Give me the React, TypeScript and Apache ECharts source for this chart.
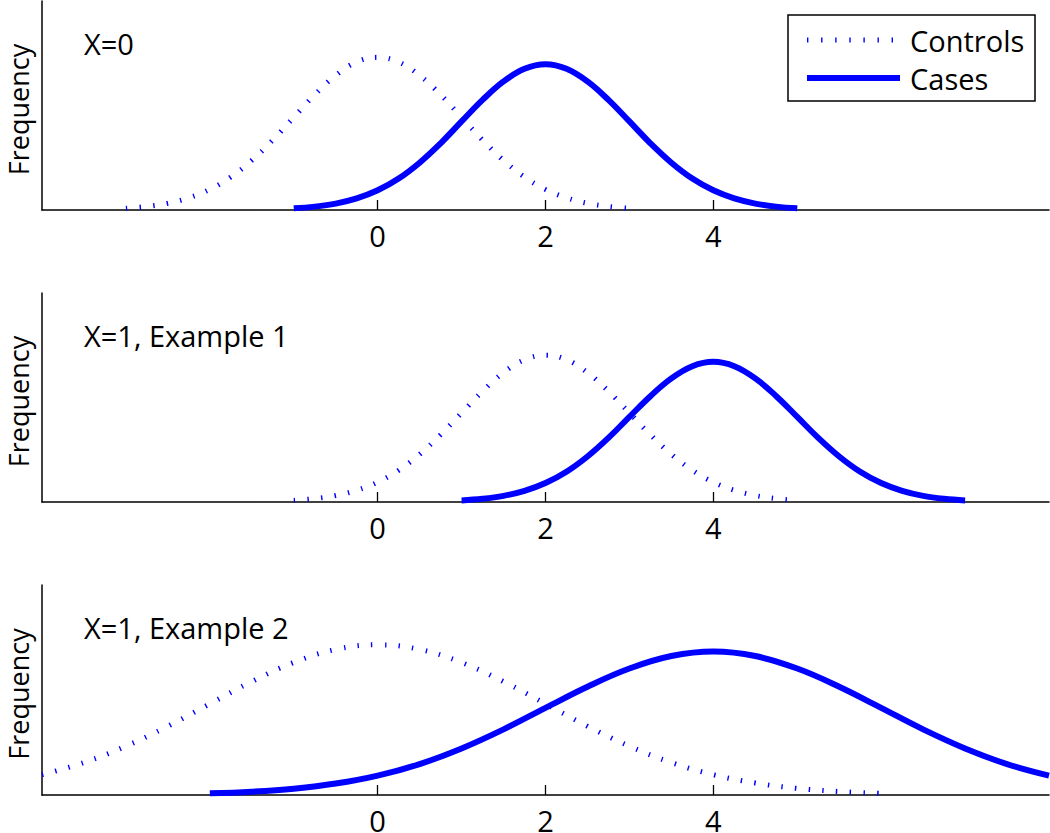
import React, { useEffect, useRef } from "react";
import * as echarts from "echarts";

// ---- data ----
const panelTitles = ["X=0", "X=1, Example 1", "X=1, Example 2"];
const seriesNames = ["Controls", "Cases"];
const xTickValues = [0, 2, 4];
const xRange = [-4, 8];
const yMaxes = [1.369, 1.424, 1.398];

// Panel 1
const p1ControlsX = [-3, -2.75, -2.5, -2.25, -2, -1.75, -1.5, -1.25, -1, -0.75, -0.5, -0.25, 0, 0.25, 0.5, 0.75, 1, 1.25, 1.5, 1.75, 2, 2.25, 2.5, 2.75, 3];
const p1ControlsY = [0.011, 0.023, 0.044, 0.08, 0.135, 0.216, 0.325, 0.458, 0.607, 0.755, 0.882, 0.969, 1.0, 0.969, 0.882, 0.755, 0.607, 0.458, 0.325, 0.216, 0.135, 0.08, 0.044, 0.023, 0.011];
const p1CasesX = [-1, -0.75, -0.5, -0.25, 0, 0.25, 0.5, 0.75, 1, 1.25, 1.5, 1.75, 2, 2.25, 2.5, 2.75, 3, 3.25, 3.5, 3.75, 4, 4.25, 4.5, 4.75, 5];
const p1CasesY = [0.011, 0.022, 0.042, 0.076, 0.129, 0.206, 0.31, 0.437, 0.58, 0.721, 0.842, 0.925, 0.955, 0.925, 0.842, 0.721, 0.58, 0.437, 0.31, 0.206, 0.129, 0.076, 0.042, 0.022, 0.011];

// Panel 2
const p2ControlsX = [-1, -0.75, -0.5, -0.25, 0, 0.25, 0.5, 0.75, 1, 1.25, 1.5, 1.75, 2, 2.25, 2.5, 2.75, 3, 3.25, 3.5, 3.75, 4, 4.25, 4.5, 4.75, 5];
const p2ControlsY = [0.011, 0.023, 0.044, 0.08, 0.135, 0.216, 0.325, 0.458, 0.607, 0.755, 0.882, 0.969, 1.0, 0.969, 0.882, 0.755, 0.607, 0.458, 0.325, 0.216, 0.135, 0.08, 0.044, 0.023, 0.011];
const p2CasesX = [1, 1.25, 1.5, 1.75, 2, 2.25, 2.5, 2.75, 3, 3.25, 3.5, 3.75, 4, 4.25, 4.5, 4.75, 5, 5.25, 5.5, 5.75, 6, 6.25, 6.5, 6.75, 7];
const p2CasesY = [0.011, 0.022, 0.042, 0.076, 0.129, 0.206, 0.31, 0.437, 0.58, 0.721, 0.842, 0.925, 0.955, 0.925, 0.842, 0.721, 0.58, 0.437, 0.31, 0.206, 0.129, 0.076, 0.042, 0.022, 0.011];

// Panel 3
const p3ControlsX = [-4, -3.5, -3, -2.5, -2, -1.5, -1, -0.5, 0, 0.5, 1, 1.5, 2, 2.5, 3, 3.5, 4, 4.5, 5, 5.5, 6];
const p3ControlsY = [0.135, 0.216, 0.325, 0.458, 0.607, 0.755, 0.882, 0.969, 1.0, 0.969, 0.882, 0.755, 0.607, 0.458, 0.325, 0.216, 0.135, 0.08, 0.044, 0.023, 0.011];
const p3CasesX = [-2, -1.5, -1, -0.5, 0, 0.5, 1, 1.5, 2, 2.5, 3, 3.5, 4, 4.5, 5, 5.5, 6, 6.5, 7, 7.5, 8];
const p3CasesY = [0.011, 0.022, 0.042, 0.076, 0.129, 0.206, 0.31, 0.437, 0.58, 0.721, 0.842, 0.925, 0.955, 0.925, 0.842, 0.721, 0.58, 0.437, 0.31, 0.206, 0.129];

const controlsXs = [p1ControlsX, p2ControlsX, p3ControlsX];
const controlsYs = [p1ControlsY, p2ControlsY, p3ControlsY];
const casesXs = [p1CasesX, p2CasesX, p3CasesX];
const casesYs = [p1CasesY, p2CasesY, p3CasesY];

// ---- layout / style ----
const FONT = '"Open Sans", sans-serif';
const FS = 29;
const BLUE = "#0000ff";
const gridTops = [1, 293, 585];
const gridHeights = [209, 209, 210];
const GRID_LEFT = 42;
const GRID_WIDTH = 1007;
const DOT_DASH = [1.4, 12.3];

const zip = (xs: number[], ys: number[]) => xs.map((x, i) => [x, ys[i]]);

export default function App() {
  const ref = useRef<HTMLDivElement>(null);

  useEffect(() => {
    if (!ref.current) return;
    const chart = echarts.init(ref.current, undefined, { renderer: "svg" });

    const grid = gridTops.map((t, i) => ({
      left: GRID_LEFT,
      width: GRID_WIDTH,
      top: t,
      height: gridHeights[i],
      containLabel: false,
      outerBoundsMode: "none",
    }));

    const xAxis = gridTops.map((_, i) => ({
      type: "value",
      gridIndex: i,
      min: xRange[0],
      max: xRange[1],
      interval: 2,
      splitLine: { show: false },
      axisLine: { show: true, onZero: false, lineStyle: { color: "#000", width: 1.5 } },
      axisTick: {
        show: true,
        inside: true,
        length: 10,
        customValues: xTickValues,
        lineStyle: { color: "#000", width: 1.3 },
      },
      axisLabel: {
        show: true,
        customValues: xTickValues,
        fontFamily: FONT,
        fontSize: FS,
        lineHeight: 24,
        color: "#000",
        margin: 13,
      },
    }));

    const yAxis = gridTops.map((_, i) => ({
      type: "value",
      gridIndex: i,
      min: 0,
      max: yMaxes[i],
      name: "Frequency",
      nameLocation: "middle",
      nameGap: 10,
      nameTextStyle: {
        fontFamily: FONT,
        fontSize: 27,
        lineHeight: 27,
        color: "#000",
        padding: [0, 8, 0, 0],
      },
      axisLine: { show: true, onZero: false, lineStyle: { color: "#000", width: 1.5 } },
      axisTick: { show: false },
      axisLabel: { show: false },
      splitLine: { show: false },
    }));

    const series: any[] = [];
    gridTops.forEach((_, i) => {
      series.push({
        name: seriesNames[0],
        type: "line",
        xAxisIndex: i,
        yAxisIndex: i,
        data: zip(controlsXs[i], controlsYs[i]),
        symbol: "none",
        smooth: 0.4,
        silent: true,
        lineStyle: { color: BLUE, width: 5, type: DOT_DASH, cap: "butt" },
      });
      series.push({
        name: seriesNames[1],
        type: "line",
        xAxisIndex: i,
        yAxisIndex: i,
        data: zip(casesXs[i], casesYs[i]),
        symbol: "none",
        smooth: 0.4,
        silent: true,
        lineStyle: { color: BLUE, width: 6 },
      });
    });

    const titleTexts = panelTitles.map((t, i) => ({
      type: "text",
      x: 84,
      y: gridTops[i] + 42,
      style: {
        text: t,
        font: `${FS}px ${FONT}`,
        fill: "#000",
        verticalAlign: "middle",
        align: "left",
      },
      silent: true,
    }));

    const legend = {
      type: "group",
      silent: true,
      children: [
        {
          type: "rect",
          shape: { x: 788, y: 15, width: 247, height: 86 },
          style: { fill: "#fff", stroke: "#000", lineWidth: 1.5 },
        },
        {
          type: "line",
          shape: { x1: 807, y1: 40, x2: 900, y2: 40 },
          style: { stroke: BLUE, lineWidth: 5, lineDash: [1.4, 12.7], lineCap: "butt" },
        },
        {
          type: "line",
          shape: { x1: 807, y1: 78, x2: 900, y2: 78 },
          style: { stroke: BLUE, lineWidth: 6 },
        },
        {
          type: "text",
          x: 910,
          y: 40,
          style: { text: seriesNames[0], font: `${FS}px ${FONT}`, fill: "#000", verticalAlign: "middle" },
        },
        {
          type: "text",
          x: 910,
          y: 78,
          style: { text: seriesNames[1], font: `${FS}px ${FONT}`, fill: "#000", verticalAlign: "middle" },
        },
      ],
    };

    chart.setOption({
      animation: false,
      backgroundColor: "#fff",
      grid,
      xAxis,
      yAxis,
      series,
      graphic: [...titleTexts, legend],
    });

    return () => chart.dispose();
  }, []);

  return (
    <div
      ref={ref}
      style={{ position: "fixed", left: 0, top: 0, width: 1050, height: 833, background: "#fff" }}
    />
  );
}
